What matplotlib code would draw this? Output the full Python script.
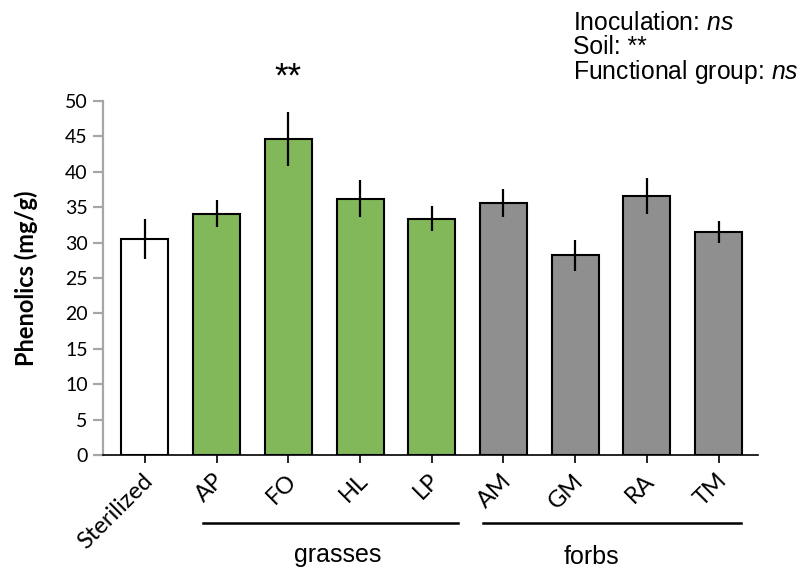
import matplotlib
matplotlib.use("Agg")
import matplotlib.pyplot as plt
import matplotlib.transforms as mtransforms
import numpy as np

categories = ["Sterilized", "AP", "FO", "HL", "LP", "AM", "GM", "RA", "TM"]
values = [30.5, 34.1, 44.6, 36.2, 33.4, 35.6, 28.2, 36.6, 31.5]
errors = [2.8, 1.95, 3.8, 2.65, 1.75, 2.0, 2.2, 2.5, 1.6]
groups = ["sterile", "grass", "grass", "grass", "grass", "forb", "forb", "forb", "forb"]
yticks = [0, 5, 10, 15, 20, 25, 30, 35, 40, 45, 50]

plt.rcParams["mathtext.fontset"] = "custom"
plt.rcParams["mathtext.rm"] = "Liberation Sans"
plt.rcParams["mathtext.it"] = "Liberation Sans:italic"

color_map = {"sterile": "#FFFFFF", "grass": "#82B85A", "forb": "#8F8F8F"}
colors = [color_map[g] for g in groups]

fig = plt.figure(figsize=(8.05, 5.72), dpi=100)
ax = fig.add_axes([103/805, 1-455/572, (758-103)/805, (455-101)/572])

x = np.arange(len(categories))
ax.bar(x, values, width=0.655, color=colors, edgecolor="black", linewidth=1.5, zorder=2)
ax.errorbar(x, values, yerr=errors, fmt="none", ecolor="black", elinewidth=1.6, capsize=0, zorder=3)

ax.set_xlim(-0.585, 8.55)
ax.set_ylim(0, 50)
ax.set_yticks(yticks)
ax.set_yticklabels([str(t) for t in yticks], fontsize=14, family="Lato")

for s in ["top", "right"]:
    ax.spines[s].set_visible(False)
ax.spines["left"].set_color("#A6A6A6")
ax.spines["left"].set_linewidth(1.6)
ax.spines["bottom"].set_color("black")
ax.spines["bottom"].set_linewidth(1.2)
ax.tick_params(axis="y", direction="out", length=7, width=1.6, color="#A6A6A6", pad=4)
ax.tick_params(axis="x", direction="out", length=6, width=1.2, color="black", pad=4)

ax.set_xticks(x)
labels = ax.set_xticklabels(categories, rotation=45, ha="right", va="top",
                            rotation_mode="anchor", fontsize=17, family="Lato")
offset = mtransforms.ScaledTranslation(-3/100, -1/100, fig.dpi_scale_trans)
for lab in labels:
    lab.set_transform(lab.get_transform() + offset)

fig.text(26/805, 1-278/572, "Phenolics (mg/g)", rotation=90, ha="center", va="center",
         fontsize=17, fontweight="bold", family="Lato")

# significance marker above FO
ax.text(2, 52.0, "**", ha="center", va="baseline", fontsize=25, family="Liberation Sans", clip_on=False)

# group lines and labels (figure coordinates)
ly = 1-523/572
fig.add_artist(plt.Line2D([203/805, 458/805], [ly, ly], color="black", linewidth=1.8))
fig.add_artist(plt.Line2D([483/805, 741/805], [ly, ly], color="black", linewidth=1.8))
fig.text(337.5/805, 1-561.7/572, "grasses", ha="center", va="baseline", fontsize=18, family="Liberation Sans")
fig.text(591/805, 1-564/572, "forbs", ha="center", va="baseline", fontsize=18, family="Liberation Sans")

# stats annotation (one multi-line text)
stats_lines = ["Inoculation: $\\it{ns}$", "Soil: **", "Functional group: $\\it{ns}$"]
fig.text(573/805, 1-11/572, "\n".join(stats_lines), ha="left", va="top", fontsize=17.8,
         family="Liberation Sans", linespacing=0.98)

fig.savefig("out.png", dpi=100)
